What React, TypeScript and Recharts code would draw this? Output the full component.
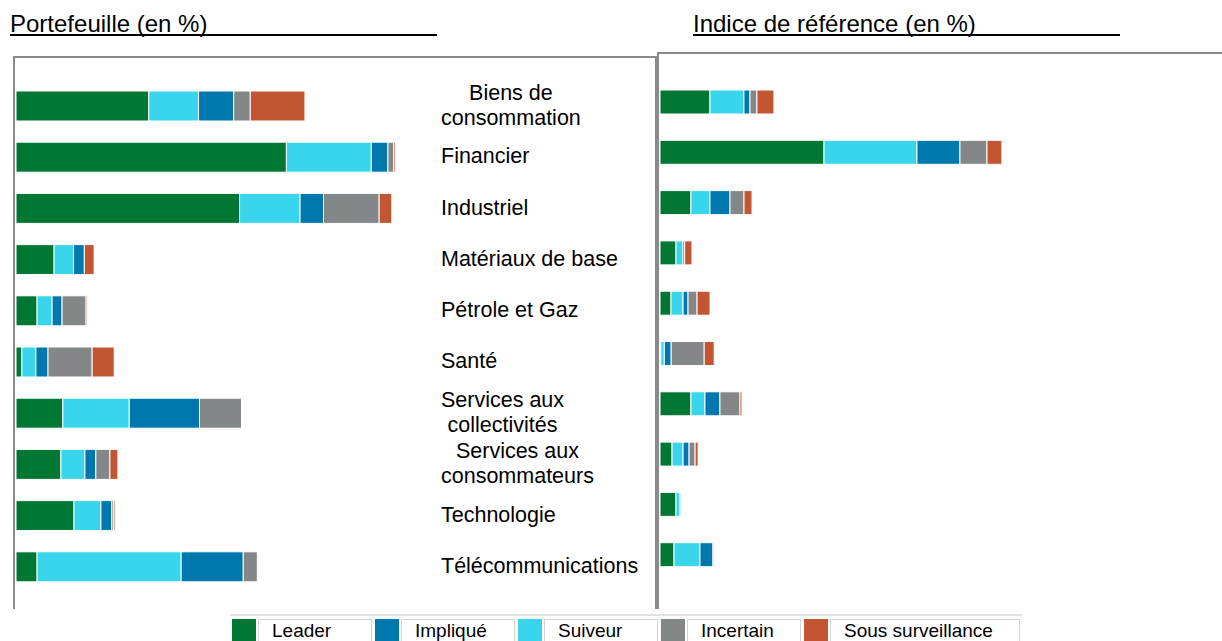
import React from "react";
import { BarChart, Bar, XAxis, YAxis } from "recharts";

// ---- Data ----
const categories = [
  "Biens de consommation",
  "Financier",
  "Industriel",
  "Matériaux de base",
  "Pétrole et Gaz",
  "Santé",
  "Services aux collectivités",
  "Services aux consommateurs",
  "Technologie",
  "Télécommunications",
];

const tickLabels: string[][] = [
  ["Biens de", "consommation"],
  ["Financier"],
  ["Industriel"],
  ["Matériaux de base"],
  ["Pétrole et Gaz"],
  ["Santé"],
  ["Services aux", "collectivités"],
  ["Services aux", "consommateurs"],
  ["Technologie"],
  ["Télécommunications"],
];

// Portefeuille (en %)
const pfLeader = [6.8, 13.85, 11.45, 1.95, 1.08, 0.3, 2.4, 2.3, 2.97, 1.08];
const pfSuiveur = [2.55, 4.35, 3.1, 1.0, 0.77, 0.72, 3.4, 1.23, 1.38, 7.38];
const pfImplique = [1.8, 0.85, 1.2, 0.55, 0.51, 0.62, 3.6, 0.56, 0.56, 3.18];
const pfIncertain = [0.85, 0.3, 2.85, 0, 1.23, 2.26, 2.15, 0.72, 0.1, 0.72];
const pfSurveillance = [2.8, 0.08, 0.65, 0.5, 0.06, 1.13, 0, 0.41, 0.07, 0];

// Indice de référence (en %)
const bmLeader = [5.81, 19.07, 3.6, 1.86, 1.28, 0.1, 3.6, 1.4, 1.86, 1.63];
const bmSuiveur = [3.95, 10.81, 2.21, 0.81, 1.4, 0.4, 1.63, 1.28, 0.47, 3.02];
const bmImplique = [0.7, 5.0, 2.33, 0.2, 0.58, 0.8, 1.74, 0.7, 0.1, 1.51];
const bmIncertain = [0.81, 3.14, 1.63, 0, 1.05, 3.84, 2.33, 0.7, 0, 0.1];
const bmSurveillance = [1.98, 1.74, 0.93, 0.85, 1.51, 1.16, 0.23, 0.35, 0, 0.05];

// stacking order (left to right)
const stackKeys = ["leader", "suiveur", "implique", "incertain", "surveillance"];
const seriesNames: Record<string, string> = {
  leader: "Leader",
  implique: "Impliqué",
  suiveur: "Suiveur",
  incertain: "Incertain",
  surveillance: "Sous surveillance",
};
const seriesColors: Record<string, string> = {
  leader: "#007833",
  implique: "#0078AD",
  suiveur: "#39D5EC",
  incertain: "#848787",
  surveillance: "#C25532",
};
// legend order
const legendKeys = ["leader", "implique", "suiveur", "incertain", "surveillance"];

const portfolioData = categories.map((name, i) => ({
  name,
  leader: pfLeader[i],
  suiveur: pfSuiveur[i],
  implique: pfImplique[i],
  incertain: pfIncertain[i],
  surveillance: pfSurveillance[i],
}));

const benchmarkData = categories.map((name, i) => ({
  name,
  leader: bmLeader[i],
  suiveur: bmSuiveur[i],
  implique: bmImplique[i],
  incertain: bmIncertain[i],
  surveillance: bmSurveillance[i],
}));

const FONT = '"Liberation Sans", Arial, Helvetica, sans-serif';
const BORDER = "#8a8a8a";

const CategoryTick = (props: any) => {
  const { x, y, payload } = props;
  const i = categories.indexOf(payload.value);
  const lines = tickLabels[i] || [payload.value];
  return (
    <foreignObject x={x} y={y - 30} width={215} height={60}>
      <div
        style={{
          height: 60,
          display: "flex",
          alignItems: "center",
          fontFamily: FONT,
          fontSize: 21.5,
          lineHeight: "25px",
          color: "#000",
        }}
      >
        <div style={{ display: "inline-block", textAlign: "center", whiteSpace: "nowrap" }}>
          {lines.map((l, k) => (
            <div key={k}>{l}</div>
          ))}
        </div>
      </div>
    </foreignObject>
  );
};

const Title = ({ left, text }: { left: number; text: string }) => (
  <div
    style={{
      position: "absolute",
      left,
      top: 9.5,
      width: 427,
      height: 24,
      borderBottom: "2px solid #000",
      fontFamily: FONT,
      fontSize: 24,
      lineHeight: "28px",
      color: "#000",
      whiteSpace: "nowrap",
    }}
  >
    {text}
  </div>
);

export default function App() {
  return (
    <div
      style={{
        position: "absolute",
        left: 0,
        top: 0,
        width: 1222,
        height: 641,
        overflow: "hidden",
        background: "#fff",
        fontFamily: FONT,
      }}
    >
      <Title left={10} text="Portefeuille (en %)" />
      <Title left={693} text="Indice de référence (en %)" />

      {/* left panel frame */}
      <div
        style={{
          position: "absolute",
          left: 13,
          top: 56,
          width: 640,
          height: 551,
          borderTop: `2px solid ${BORDER}`,
          borderLeft: `2px solid ${BORDER}`,
          borderRight: `2px solid ${BORDER}`,
          boxSizing: "content-box",
        }}
      />
      {/* right panel frame */}
      <div
        style={{
          position: "absolute",
          left: 657,
          top: 52,
          width: 570,
          height: 555,
          borderTop: `2px solid ${BORDER}`,
          borderLeft: `2px solid ${BORDER}`,
        }}
      />

      {/* Portfolio chart */}
      <div style={{ position: "absolute", left: 16, top: 80 }}>
        <BarChart
          width={640}
          height={512}
          data={portfolioData}
          layout="vertical"
          margin={{ top: 0, right: 0, bottom: 0, left: 0 }}
        >
          <XAxis type="number" domain={[0, 21]} hide />
          <YAxis
            type="category"
            dataKey="name"
            orientation="right"
            width={230}
            axisLine={false}
            tickLine={false}
            tickSize={0}
            tickMargin={15}
            tick={<CategoryTick />}
            interval={0}
          />
          {stackKeys.map((k) => (
            <Bar
              key={k}
              dataKey={k}
              name={seriesNames[k]}
              stackId="a"
              fill={seriesColors[k]}
              stroke="#fff"
              strokeWidth={1}
              barSize={30}
              isAnimationActive={false}
            />
          ))}
        </BarChart>
      </div>

      {/* Benchmark chart */}
      <div style={{ position: "absolute", left: 660, top: 77 }}>
        <BarChart
          width={387}
          height={503}
          data={benchmarkData}
          layout="vertical"
          margin={{ top: 0, right: 0, bottom: 0, left: 0 }}
        >
          <XAxis type="number" domain={[0, 45]} hide />
          <YAxis type="category" dataKey="name" hide />
          {stackKeys.map((k) => (
            <Bar
              key={k}
              dataKey={k}
              name={seriesNames[k]}
              stackId="b"
              fill={seriesColors[k]}
              stroke="#fff"
              strokeWidth={1}
              barSize={24}
              isAnimationActive={false}
            />
          ))}
        </BarChart>
      </div>

      {/* Legend */}
      <div
        style={{
          position: "absolute",
          left: 230,
          top: 614,
          width: 792,
          height: 30,
          borderTop: "2px solid #e2e2e2",
          background: "#fff",
        }}
      />
      <div
        style={{
          position: "absolute",
          left: 232,
          top: 619,
          display: "flex",
          alignItems: "flex-start",
        }}
      >
        {legendKeys.map((k, i) => (
          <div key={k} style={{ display: "flex", marginRight: i < legendKeys.length - 1 ? 3 : 0 }}>
            <div style={{ width: 24, height: 24, background: seriesColors[k], marginRight: 2 }} />
            <div
              style={{
                minWidth: 114,
                height: 24,
                boxSizing: "border-box",
                border: "1px solid #d4d4d4",
                padding: i === legendKeys.length - 1 ? "0 26px 0 13px" : "0 0 0 13px",
                fontFamily: FONT,
                fontSize: 19,
                lineHeight: "22px",
                color: "#000",
                whiteSpace: "nowrap",
              }}
            >
              {seriesNames[k]}
            </div>
          </div>
        ))}
      </div>
    </div>
  );
}
